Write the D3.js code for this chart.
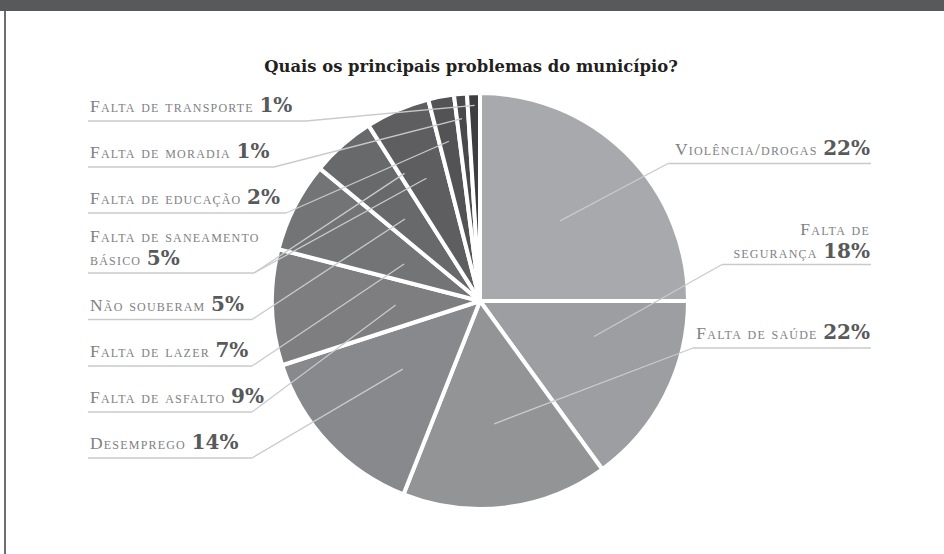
<!DOCTYPE html>
<html lang='pt'>
<head>
  <meta charset='UTF-8'/>
  <title>Quais os principais problemas do município?</title>
  <script src='https://d3js.org/d3.v7.min.js'></script>
  <style>
    body { margin: 0; background: #fff; }
    svg { display: block; }
  </style>
</head>
<body>
  <div id="chart"></div>
</body>
</html>

<script>
// slice order, clockwise from 12 o'clock
const labels = ['Violência/drogas', 'Falta de segurança', 'Falta de saúde', 'Desemprego',
  'Falta de asfalto', 'Falta de lazer', 'Não souberam', 'Falta de saneamento básico',
  'Falta de educação', 'Falta de moradia', 'Falta de transporte'];
// percentages as printed on the labels
const percents = [22, 18, 22, 14, 9, 7, 5, 5, 2, 1, 1];
// share of the circle each slice takes in the picture (does not follow the labels)
const sliceShare = [25, 15, 16, 14, 9, 7, 5, 5, 2, 1, 1];

const width = 944, height = 554;
const cx = 480, cy = 301, R = 208;

// label layout: text lines, baselines, underline y, elbow x, leader ends [t within slice, depth]
const layout = [
  { side: 'right', lines: ['Violência/drogas'], y: [155], uy: 163.5, ex: 668, ends: [[0.5, 0.55]] },
  { side: 'right', lines: ['Falta de', 'segurança'], y: [235, 258], uy: 264.5, ex: 722, ends: [[0.32, 0.58]] },
  { side: 'right', lines: ['Falta de saúde'], y: [339], uy: 348, ex: 693, ends: [[0.51, 0.6]] },
  { side: 'left', lines: ['Desemprego'], y: [449], uy: 458, ex: 252, ends: [[0.535, 0.5]] },
  { side: 'left', lines: ['Falta de asfalto'], y: [403], uy: 412, ex: 252, ends: [[0.47, 0.41]] },
  { side: 'left', lines: ['Falta de lazer'], y: [357], uy: 366, ex: 252, ends: [[0.46, 0.41]] },
  { side: 'left', lines: ['Não souberam'], y: [311], uy: 319.5, ex: 252, ends: [[0.44, 0.54]] },
  { side: 'left', lines: ['Falta de saneamento', 'básico'], y: [242, 264.5], uy: 273, ex: 254, ends: [[0.1, 0.72], [0.49, 0.65]] },
  { side: 'left', lines: ['Falta de educação'], y: [204], uy: 213, ex: 286, ends: [[0.47, 0.79]] },
  { side: 'left', lines: ['Falta de moradia'], y: [158], uy: 167, ex: 274, ends: [[0.43, 0.89]] },
  { side: 'left', lines: ['Falta de transporte'], y: [112], uy: 121, ex: 306, ends: [[0.56, 0.95]] }
];

const svg = d3.select('#chart').append('svg')
  .attr('width', width)
  .attr('height', height);

// frame
svg.append('rect').attr('x', 0).attr('y', 0).attr('width', width).attr('height', 11).attr('fill', '#58595b');
svg.append('rect').attr('x', 4).attr('y', 11).attr('width', 2).attr('height', height - 11).attr('fill', '#6d6e71');

svg.append('text')
  .attr('x', 471)
  .attr('y', 72)
  .attr('text-anchor', 'middle')
  .attr('font-family', 'DejaVu Serif')
  .attr('font-weight', 'bold')
  .attr('font-size', 16.4)
  .attr('fill', '#231f20')
  .text('Quais os principais problemas do município?');

const color = d3.scaleLinear()
  .domain([0, labels.length - 1])
  .range(['#a8a9ac', '#3e3e40'])
  .interpolate(d3.interpolateRgb);

const pie = d3.pie().sort(null).value(d => d)(sliceShare);
const arc = d3.arc().innerRadius(0).outerRadius(R);

const g = svg.append('g').attr('transform', `translate(${cx},${cy})`);

g.selectAll('path.slice').data(pie).enter()
  .append('path')
  .attr('class', 'slice')
  .attr('d', arc)
  .attr('fill', (d, i) => color(i))
  .attr('stroke', '#fff')
  .attr('stroke-width', 4)
  .attr('stroke-linejoin', 'round');

// leaders
const lineColor = '#c9cacc';
layout.forEach((L, i) => {
  const a = pie[i];
  const left = L.side === 'left';
  const x0 = left ? 88 : L.ex, x1 = left ? L.ex : 871;
  svg.append('line')
    .attr('x1', x0).attr('x2', x1).attr('y1', L.uy).attr('y2', L.uy)
    .attr('stroke', lineColor).attr('stroke-width', 1.3);
  L.ends.forEach(([t, depth]) => {
    const ang = a.startAngle + t * (a.endAngle - a.startAngle);
    const r = depth * (R - 2);
    svg.append('line')
      .attr('x1', L.ex).attr('y1', L.uy)
      .attr('x2', cx + r * Math.sin(ang)).attr('y2', cy - r * Math.cos(ang))
      .attr('stroke', lineColor).attr('stroke-width', 1.3);
  });

  L.lines.forEach((line, k) => {
    const last = k === L.lines.length - 1;
    const t = svg.append('text')
      .attr('x', left ? 90 : 870)
      .attr('y', L.y[k])
      .attr('text-anchor', left ? 'start' : 'end');
    t.append('tspan')
      .attr('font-family', 'Liberation Serif')
      .attr('font-size', 17.5)
      .style('font-variant', 'small-caps')
      .style('letter-spacing', '1.2px')
      .attr('fill', '#808184')
      .text(line + (last ? ' ' : ''));
    if (last) {
      t.append('tspan')
        .attr('font-family', 'DejaVu Serif')
        .attr('font-weight', 'bold')
        .attr('font-size', 20)
        .attr('fill', '#58595b')
        .text(percents[i] + '%');
    }
  });
});
</script>
